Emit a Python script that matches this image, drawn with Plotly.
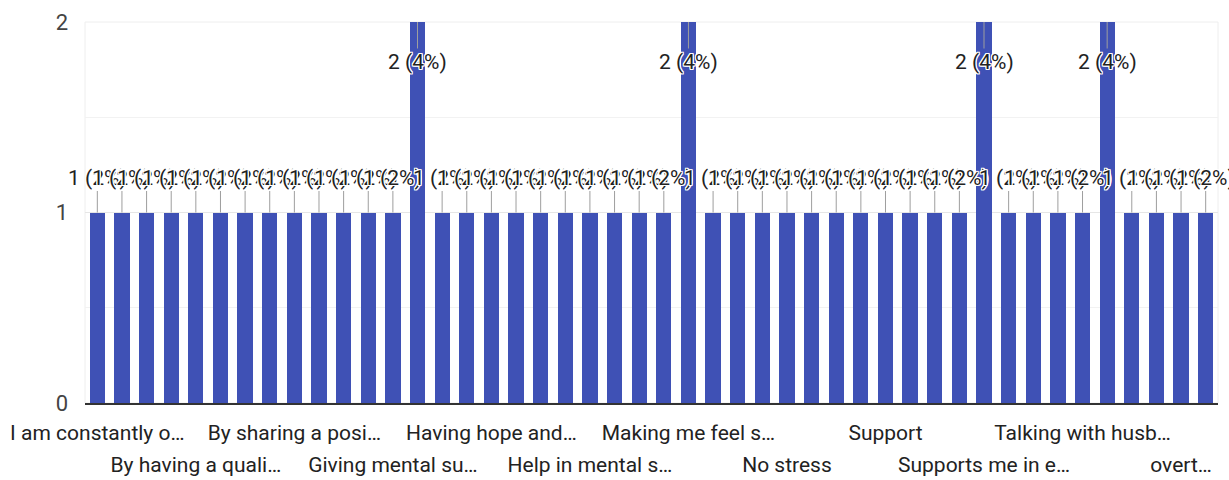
import plotly.graph_objects as go

# Response counts per answer, in display order
counts = [1] * 46
for idx in (13, 24, 36, 41):
    counts[idx] = 2

# Axis labels shown under every fourth bar (alternating two rows)
label_positions = [0, 4, 8, 12, 16, 20, 24, 28, 32, 36, 40, 44]
labels = [
    "I am constantly o…", "By having a quali…", "By sharing a posi…",
    "Giving mental su…", "Having hope and…", "Help in mental s…",
    "Making me feel s…", "No stress", "Support", "Supports me in e…",
    "Talking with husb…", "overt…",
]

total = sum(counts)
x = list(range(len(counts)))
ymax = max(counts)

BAR = "#3f51b5"
FONT = "Roboto, Arial, sans-serif"
halo = ("white 1px 1px 0, white -1px -1px 0, white 1px -1px 0, white -1px 1px 0, "
        "white 0 1px 0, white 0 -1px 0, white 1px 0 0, white -1px 0 0")

fig = go.Figure()
fig.add_trace(go.Bar(x=x, y=counts, marker=dict(color=BAR, line=dict(width=0)),
                     width=0.62, hoverinfo="skip", xaxis="x", yaxis="y"))
# invisible companion trace so the second label row axis is drawn
fig.add_trace(go.Scatter(x=[x[0], x[-1]], y=[0, 0], mode="markers",
                         marker=dict(opacity=0), hoverinfo="skip",
                         xaxis="x2", yaxis="y", showlegend=False))

# value labels with short stems
annotations = []
for i, v in enumerate(counts):
    pct = round(v / total * 100)
    inside = v >= ymax
    annotations.append(dict(
        x=i, y=v, xref="x", yref="y",
        text=f"{v} ({pct}%)",
        showarrow=True, arrowhead=0, arrowwidth=1, arrowcolor="#9e9e9e",
        ax=0, ay=40 if inside else -35, standoff=0,
        font=dict(family=FONT, size=21, color="#222222", shadow=halo),
    ))

row1 = [(p, t) for k, (p, t) in enumerate(zip(label_positions, labels)) if k % 2 == 0]
row2 = [(p, t) for k, (p, t) in enumerate(zip(label_positions, labels)) if k % 2 == 1]

fig.update_layout(
    width=1229, height=480,
    margin=dict(l=85, r=11, t=22, b=77),
    paper_bgcolor="white", plot_bgcolor="white",
    showlegend=False,
    bargap=0,
    annotations=annotations,
    xaxis=dict(
        range=[-0.5, len(counts) - 0.5],
        tickvals=[p for p, _ in row1], ticktext=[t for _, t in row1],
        tickfont=dict(family=FONT, size=21, color="#222222"),
        ticks="", showgrid=False, zeroline=False,
        showline=True, linecolor="#333333", linewidth=2,
        ticklabelstandoff=10, automargin=False,
    ),
    xaxis2=dict(
        overlaying="x", matches="x", anchor="y", side="bottom",
        tickvals=[p for p, _ in row2], ticktext=[t for _, t in row2],
        tickfont=dict(family=FONT, size=21, color="#222222"),
        ticks="", showgrid=False, zeroline=False, showline=False,
        ticklabelstandoff=47, automargin=False,
    ),
    yaxis=dict(
        range=[0, ymax], tickvals=[0, 1, 2],
        tickfont=dict(family=FONT, size=22, color="#444444"),
        showgrid=True, gridcolor="#e6e6e6", gridwidth=1,
        minor=dict(dtick=0.5, showgrid=True, gridcolor="#f2f2f2"),
        zeroline=False, ticks="", ticklabelstandoff=16, automargin=False,
    ),
    shapes=[dict(type="rect", xref="paper", yref="paper", x0=0, x1=1, y0=0, y1=1,
                 line=dict(color="#eeeeee", width=1), layer="below")],
)

fig.write_html("out.html")
